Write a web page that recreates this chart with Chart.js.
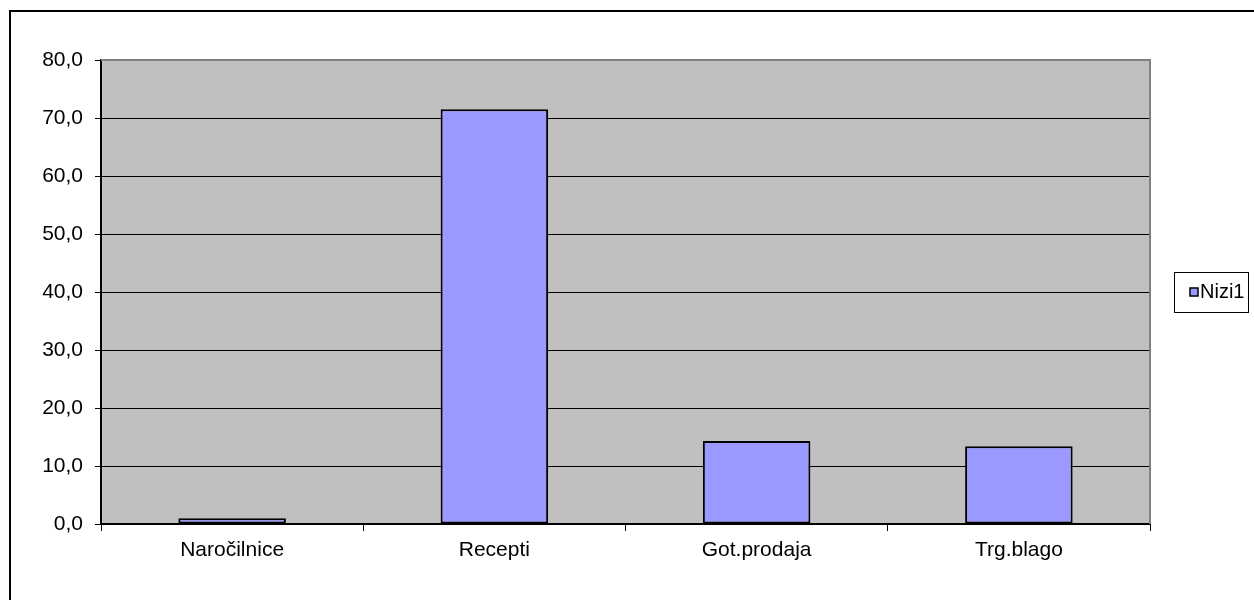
<!DOCTYPE html>
<html>
<head>
<meta charset="utf-8">
<script src="https://cdn.jsdelivr.net/npm/chart.js@4/dist/chart.umd.min.js"></script>
<style>
  html, body { margin: 0; padding: 0; background: #fff; }
  #wrap { width: 1254px; height: 600px; position: relative; }
</style>
</head>
<body>
<div id="wrap"><canvas id="c" width="1254" height="600"></canvas></div>
<script>
const categories = ["Naročilnice", "Recepti", "Got.prodaja", "Trg.blago"];
const values = [1.0, 71.5, 14.3, 13.4];
const seriesName = "Nizi1";
const yTicks = [0, 10, 20, 30, 40, 50, 60, 70, 80];

const FONT = "'Liberation Sans', Arial, sans-serif";

// grey plot area, outer frame and plot border (Excel look)
const frame = {
  id: "frame",
  beforeDraw(chart) {
    const { ctx, chartArea: a } = chart;
    ctx.save();
    ctx.strokeStyle = "#000";
    ctx.lineWidth = 2;
    ctx.strokeRect(10, 11, 1400, 800);
    ctx.fillStyle = "#C0C0C0";
    ctx.fillRect(a.left, a.top, a.right - a.left, a.bottom - a.top);
    ctx.restore();
  },
  afterDatasetsDraw(chart) {
    const { ctx, chartArea: a } = chart;
    ctx.save();
    ctx.strokeStyle = "#808080";
    ctx.lineWidth = 2;
    ctx.beginPath();
    ctx.moveTo(a.left, a.top);
    ctx.lineTo(a.right, a.top);
    ctx.lineTo(a.right, a.bottom);
    ctx.stroke();
    ctx.restore();
  }
};

// legend box on the right
const boxLegend = {
  id: "boxLegend",
  afterDraw(chart) {
    const { ctx } = chart;
    const ds = chart.data.datasets[0];
    ctx.save();
    ctx.fillStyle = "#fff";
    ctx.fillRect(1174, 272, 74, 40);
    ctx.strokeStyle = "#000";
    ctx.lineWidth = 1;
    ctx.strokeRect(1174.5, 272.5, 74, 40);
    ctx.fillStyle = ds.backgroundColor;
    ctx.fillRect(1190, 288, 8, 8);
    ctx.lineWidth = 1.5;
    ctx.strokeRect(1190, 288, 8, 8);
    ctx.fillStyle = "#000";
    ctx.font = "20px " + FONT;
    ctx.textBaseline = "middle";
    ctx.fillText(ds.label, 1200, 292);
    ctx.restore();
  }
};

new Chart(document.getElementById("c"), {
  type: "bar",
  data: {
    labels: categories,
    datasets: [{
      label: seriesName,
      data: values,
      backgroundColor: "#9999FF",
      borderColor: "#000",
      borderWidth: 2,
      borderSkipped: false,
      barPercentage: 0.41,
      categoryPercentage: 1.0
    }]
  },
  options: {
    responsive: false,
    animation: false,
    devicePixelRatio: 1,
    layout: { padding: { top: 60, right: 104, left: 0, bottom: 0 } },
    plugins: {
      legend: { display: false },
      tooltip: { enabled: false }
    },
    scales: {
      x: {
        afterFit(scale) { scale.height = 76; },
        grid: {
          offset: true,
          drawOnChartArea: false,
          tickLength: 7,
          tickColor: "#000",
          lineWidth: 1
        },
        border: { color: "#000", width: 2 },
        ticks: {
          color: "#000",
          padding: 7,
          maxRotation: 0,
          font: { family: FONT, size: 21 }
        }
      },
      y: {
        min: 0,
        max: 80,
        afterFit(scale) { scale.width = 101; },
        afterBuildTicks(scale) { scale.ticks = yTicks.map(v => ({ value: v })); },
        grid: {
          color: (c) => (c.tick && c.tick.value === 80 ? "#808080" : "#000"),
          tickColor: "#000",
          tickLength: 6,
          lineWidth: 1
        },
        border: { color: "#000", width: 2 },
        ticks: {
          color: "#000",
          padding: 12,
          font: { family: FONT, size: 21 },
          callback: (v) => v.toFixed(1).replace(".", ",")
        }
      }
    }
  },
  plugins: [frame, boxLegend]
});
</script>
</body>
</html>
